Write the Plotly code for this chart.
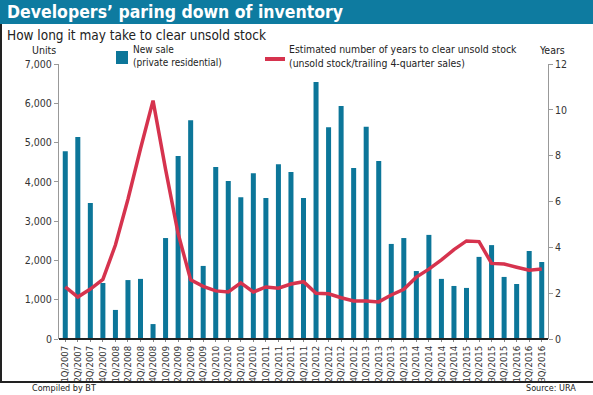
import plotly.graph_objects as go

quarters = ["1Q/2007","2Q/2007","3Q/2007","4Q/2007",
            "1Q/2008","2Q/2008","3Q/2008","4Q/2008",
            "1Q/2009","2Q/2009","3Q/2009","4Q/2009",
            "1Q/2010","2Q/2010","3Q/2010","4Q/2010",
            "1Q/2011","2Q/2011","3Q/2011","4Q/2011",
            "1Q/2012","2Q/2012","3Q/2012","4Q/2012",
            "1Q/2013","2Q/2013","3Q/2013","4Q/2013",
            "1Q/2014","2Q/2014","3Q/2014","4Q/2014",
            "1Q/2015","2Q/2015","3Q/2015","4Q/2015",
            "1Q/2016","2Q/2016","3Q/2016"]

new_sales = [4780, 5140, 3460, 1425,
             740, 1500, 1530, 380,
             2570, 4660, 5570, 1860,
             4380, 4020, 3610, 4220,
             3590, 4450, 4250, 3590,
             6540, 5390, 5930, 4350,
             5400, 4530, 2420, 2570,
             1730, 2650, 1530, 1350,
             1300, 2090, 2390, 1580,
             1400, 2240, 1960]

years_to_clear = [2.27, 1.83, 2.18, 2.6,
                  4.1, 6.1, 8.3, 10.4,
                  7.4, 4.6, 2.58, 2.3,
                  2.1, 2.05, 2.45, 2.05,
                  2.27, 2.22, 2.4, 2.5,
                  2.0, 1.97, 1.8, 1.66,
                  1.66, 1.62, 1.92, 2.17,
                  2.7, 3.05, 3.45, 3.9,
                  4.28, 4.25, 3.3, 3.27,
                  3.13, 3.0, 3.05]

left_ticks = [0, 1000, 2000, 3000, 4000, 5000, 6000, 7000]
left_labels = ["0", "1,000", "2,000", "3,000", "4,000", "5,000", "6,000", "7,000"]
right_ticks = [0, 2, 4, 6, 8, 10, 12]

BAR = "#0C7699"
RED = "#D6334E"
TEAL = "#0E7BA0"
FONT = "DejaVu Sans Condensed, Liberation Sans Narrow, sans-serif"

W, H = 593, 395
L, R, T, B = 59, 548, 64, 339


def px(x):
    return (x - L) / (R - L)


def py(y):
    return (B - y) / (B - T)


fig = go.Figure()
fig.add_trace(go.Bar(x=quarters, y=new_sales, marker_color=BAR,
                     marker_line_width=0, yaxis="y", showlegend=False))
fig.add_trace(go.Scatter(x=quarters, y=years_to_clear, mode="lines",
                         line=dict(color=RED, width=3.5), yaxis="y2",
                         showlegend=False))

shapes = [
    dict(type="rect", xref="paper", yref="paper", x0=px(0), x1=px(W),
         y0=py(24), y1=py(0), fillcolor=TEAL, line_width=0, layer="below"),
    dict(type="line", xref="paper", yref="paper", x0=px(1), x1=px(1),
         y0=py(382), y1=py(24), line=dict(color="#222", width=2)),
    dict(type="line", xref="paper", yref="paper", x0=px(0), x1=px(W),
         y0=py(382), y1=py(382), line=dict(color="#222", width=2)),
    dict(type="line", xref="paper", yref="paper", x0=0, x1=1,
         y0=0, y1=0, line=dict(color="#222", width=2)),
    dict(type="rect", xref="paper", yref="paper", x0=px(116), x1=px(128),
         y0=py(64), y1=py(51), fillcolor=BAR, line_width=0),
    dict(type="line", xref="paper", yref="paper", x0=px(265), x1=px(285),
         y0=py(59), y1=py(59), line=dict(color=RED, width=4)),
]


def ann(text, x, y, size, color="#222", xanchor="left", bold=False):
    if bold:
        text = "<b>" + text + "</b>"
    return dict(text=text, x=px(x), y=py(y), xref="paper", yref="paper",
                xanchor=xanchor, yanchor="middle", showarrow=False,
                borderpad=0, align="left",
                font=dict(family=FONT, size=size, color=color))


annotations = [
    ann("Developers\u2019 paring down of inventory", 6, 12, 17.5, "white", bold=True),
    ann("How long it may take to clear unsold stock", 6, 35, 13.5),
    ann("Units", 31, 50, 10.5),
    ann("Years", 566, 50, 10.5, xanchor="right"),
    ann("New sale<br>(private residential)", 132, 56, 10),
    ann("Estimated number of years to clear unsold stock<br>"
        "(unsold stock/trailing 4-quarter sales)", 288, 56, 10.4),
    ann("Compiled by BT", 31, 388, 9),
    ann("Source: URA", 577, 388, 9, xanchor="right"),
]

fig.update_layout(
    width=W, height=H,
    margin=dict(l=L, r=W - R, t=T, b=H - B, pad=0, autoexpand=False),
    paper_bgcolor="white", plot_bgcolor="white",
    font=dict(family=FONT, size=11, color="#222"),
    bargap=0.6,
    hovermode=False,
    xaxis=dict(type="category", range=[-0.5, len(quarters) - 0.5],
               tickmode="array", tickvals=quarters, ticktext=quarters,
               tickangle=-90, tickfont=dict(size=9.5, color="#333"),
               ticks="outside", ticklen=2, tickcolor="#888",
               automargin=False,
               showgrid=False, showline=False, zeroline=False),
    yaxis=dict(range=[0, 7000], tickvals=left_ticks, ticktext=left_labels,
               automargin=False,
               showgrid=False, zeroline=False, showline=True, linecolor="#999",
               linewidth=1, ticks="outside", ticklen=4, tickcolor="#999",
               tickfont=dict(size=10.5, color="#333")),
    yaxis2=dict(range=[0, 12], tickvals=right_ticks, overlaying="y", side="right",
                automargin=False,
                showgrid=False, zeroline=False, showline=True, linecolor="#999",
                linewidth=1, ticks="outside", ticklen=4, tickcolor="#999",
                tickfont=dict(size=10.5, color="#333")),
    shapes=shapes,
    annotations=annotations,
)

fig.write_html("out.html", config={"displayModeBar": False},
               post_script="document.body.style.margin='0';")
